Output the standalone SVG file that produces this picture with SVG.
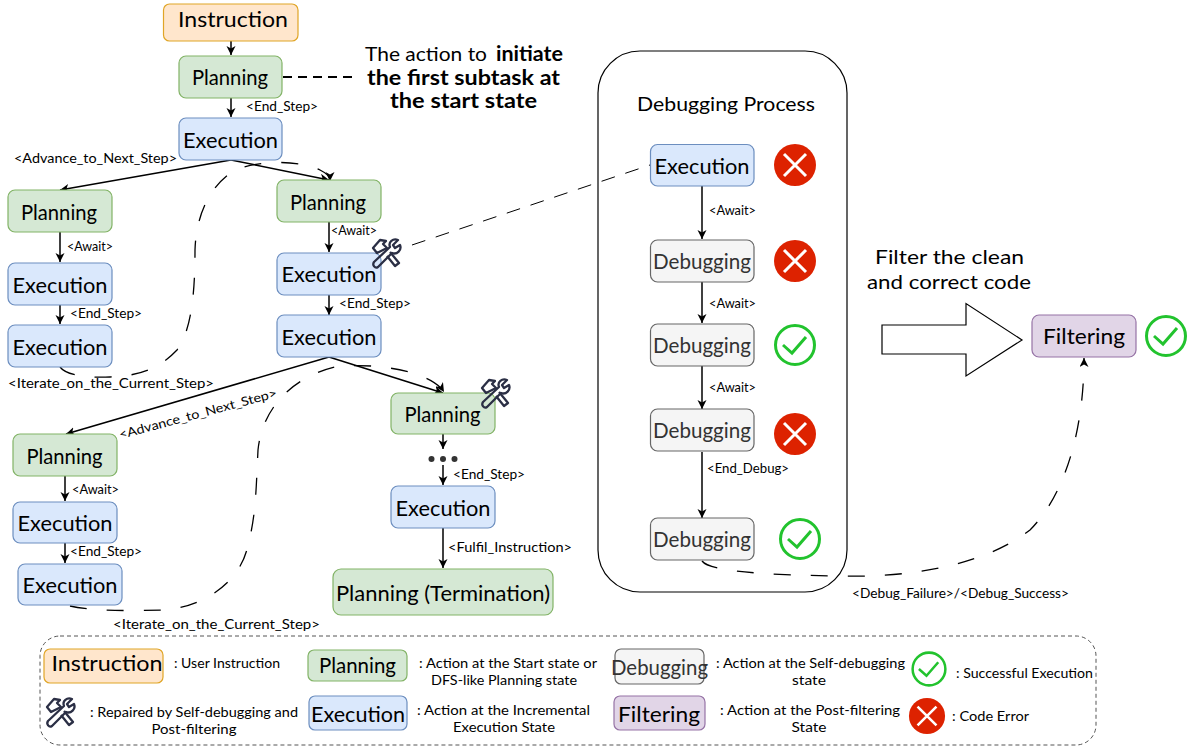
<svg xmlns="http://www.w3.org/2000/svg" xmlns:xlink="http://www.w3.org/1999/xlink" width="1194" height="747" viewBox="0 0 1194 747">
<style>
text{font-family:"Lato","Open Sans","Liberation Sans",sans-serif;fill:#000;text-anchor:middle}
.n{font-size:22px}.s{font-size:12.5px}.l{font-size:13px}.t{font-size:20px}.b{font-weight:700}
.ins{fill:#ffe6cc;stroke:#e0a526;stroke-width:1.2}.pl{fill:#d5e8d4;stroke:#82b366;stroke-width:1.2}.ex{fill:#dae8fc;stroke:#6c8ebf;stroke-width:1.2}.de{fill:#f5f5f5;stroke:#666;stroke-width:1.2}.fi{fill:#e1d5e7;stroke:#9673a6;stroke-width:1.2}
.dt{fill:#333}
.c{fill:none;stroke:#000;stroke-width:1.5;marker-end:url(#a)}
.d{fill:none;stroke:#000;stroke-width:1.3;stroke-dasharray:17 20}
.ok{fill:#fff;stroke:#22c32e;stroke-width:3}.okm{fill:none;stroke:#22c32e;stroke-width:3}
.er{fill:#dd2200}.erm{fill:none;stroke:#fff;stroke-width:3}
</style>
<defs>
<marker id="a" markerUnits="userSpaceOnUse" markerWidth="11" markerHeight="10" refX="9" refY="4.500" orient="auto"><path d="M0 0L9 4.500L0 9L2.500 4.500z" fill="#000"/></marker>
<g id="tool" fill="none" stroke="#2b2f45" stroke-width="2.3" stroke-linejoin="round">
<path d="M16 18L24 28L28 25L19 14"/>
<path d="M12 12L6 15L2 10L9 2L15 3L12 6L16 10z"/>
<path d="M3 24L19 9C17 4 22 0 27 2L22 7L24 10L29 7C31 12 26 17 21 15L7 29C4 31 1 27 3 24z"/>
</g>
<g id="okI"><circle class="ok" r="19.500"/><path class="okm" d="M-12 0L-3 8L11-8"/></g>
<g id="erI"><circle class="er" r="21"/><path class="erm" d="M-11-11L11 11M11-11L-11 11"/></g>
</defs>
<rect width="1194" height="747" fill="#fff"/>

<g id="debug-container"><rect x="598" y="51" width="249" height="541" rx="42" fill="#fff" stroke="#000" stroke-width="1.2"/></g>

<g id="connectors">
<path class="c" d="M231 41V55"/><path class="c" d="M231 98V117"/>
<path class="c" d="M231 160L60 190"/><path class="c" d="M231 160L329 180"/>
<path class="c" d="M60 232V262"/><path class="c" d="M60 305V324"/>
<path class="c" d="M329 222V252"/><path class="c" d="M329 295V315"/>
<path class="c" d="M329 357L66 434"/><path class="c" d="M329 357L443 393"/>
<path class="c" d="M65 476V501"/><path class="c" d="M65 543V563"/>
<path class="c" d="M443 434V449"/><path class="c" d="M443 465V485"/><path class="c" d="M443 528V568"/>
<path class="c" d="M702 186V239"/><path class="c" d="M702 282V323"/><path class="c" d="M702 366V409"/><path class="c" d="M702 452V518"/>
<path fill="none" stroke="#000" stroke-width="2" stroke-dasharray="9 6" d="M283 77H352"/>
<path fill="none" stroke="#000" stroke-width="1" stroke-dasharray="14 11" d="M412 245L650 165"/>
<path class="d" d="M60 367C66 375 85 378 110 377C140 376 160 368 177 350C192 330 195 290 195 250C196 215 210 185 235 170C260 160 300 160 320 170C326 173 330 176 330 181" marker-end="url(#a)"/>
<path class="d" d="M70 606C90 611 130 611 162 610C200 608 240 585 248 545C256 515 256 490 258 450C262 410 290 378 335 367C370 362 430 370 444 392" marker-end="url(#a)"/>
<path class="d" d="M702 561C710 572 770 575 840 576C910 578 985 565 1030 530C1065 495 1084 430 1084 358" marker-end="url(#a)"/>
<circle cx="431.500" cy="459" r="3" fill="#333"/><circle cx="443" cy="459" r="3" fill="#333"/><circle cx="454.500" cy="459" r="3" fill="#333"/>
</g>

<g id="instruction"><rect class="ins" x="163.500" y="4" width="134.500" height="37" rx="6"/><text class="n" x="233" y="27" textLength="110" lengthAdjust="spacingAndGlyphs">Instruction</text></g>
<g id="planning-1"><rect class="pl" x="179" y="56" width="103" height="42" rx="7"/><text class="n" x="230" y="85" textLength="76" lengthAdjust="spacingAndGlyphs">Planning</text></g>
<g id="execution-1"><rect class="ex" x="179" y="118" width="103" height="42" rx="7"/><text class="n" x="230.500" y="148" textLength="95" lengthAdjust="spacingAndGlyphs">Execution</text></g>
<g id="planning-2"><rect class="pl" x="8" y="190" width="104" height="42" rx="7"/><text class="n" x="59" y="220" textLength="76" lengthAdjust="spacingAndGlyphs">Planning</text></g>
<g id="execution-2"><rect class="ex" x="8" y="263" width="104" height="42" rx="7"/><text class="n" x="60" y="293" textLength="95" lengthAdjust="spacingAndGlyphs">Execution</text></g>
<g id="execution-3"><rect class="ex" x="8" y="325" width="104" height="42" rx="7"/><text class="n" x="60" y="355" textLength="95" lengthAdjust="spacingAndGlyphs">Execution</text></g>
<g id="planning-3"><rect class="pl" x="277" y="180" width="104" height="42" rx="7"/><text class="n" x="328" y="210" textLength="76" lengthAdjust="spacingAndGlyphs">Planning</text></g>
<g id="execution-4"><rect class="ex" x="277" y="253" width="104" height="42" rx="7"/><text class="n" x="329" y="282" textLength="95" lengthAdjust="spacingAndGlyphs">Execution</text></g>
<g id="execution-5"><rect class="ex" x="277" y="315" width="104" height="42" rx="7"/><text class="n" x="329" y="345" textLength="95" lengthAdjust="spacingAndGlyphs">Execution</text></g>
<g id="planning-4"><rect class="pl" x="13" y="434" width="104" height="42" rx="7"/><text class="n" x="64.500" y="464" textLength="76" lengthAdjust="spacingAndGlyphs">Planning</text></g>
<g id="execution-6"><rect class="ex" x="13" y="502" width="104" height="41" rx="7"/><text class="n" x="65" y="531" textLength="95" lengthAdjust="spacingAndGlyphs">Execution</text></g>
<g id="execution-7"><rect class="ex" x="18" y="564" width="104" height="41" rx="7"/><text class="n" x="70" y="593" textLength="95" lengthAdjust="spacingAndGlyphs">Execution</text></g>
<g id="planning-5"><rect class="pl" x="391" y="393" width="104" height="41" rx="7"/><text class="n" x="442.500" y="422" textLength="76" lengthAdjust="spacingAndGlyphs">Planning</text></g>
<g id="execution-8"><rect class="ex" x="391" y="486" width="104" height="42" rx="7"/><text class="n" x="443" y="516" textLength="95" lengthAdjust="spacingAndGlyphs">Execution</text></g>
<g id="planning-termination"><rect class="pl" x="333" y="569" width="220" height="46" rx="8"/><text class="n" x="443" y="601" textLength="214" lengthAdjust="spacingAndGlyphs">Planning (Termination)</text></g>

<g id="debug-execution"><rect class="ex" x="650.500" y="144.500" width="103.500" height="41.500" rx="7"/><text class="n" x="702" y="174" textLength="95" lengthAdjust="spacingAndGlyphs">Execution</text></g>
<g id="debug-1"><rect class="de" x="650.500" y="240" width="103.500" height="42" rx="7"/><text class="n dt" x="702" y="269" textLength="98" lengthAdjust="spacingAndGlyphs">Debugging</text></g>
<g id="debug-2"><rect class="de" x="650.500" y="324" width="103.500" height="42" rx="7"/><text class="n dt" x="702" y="353" textLength="98" lengthAdjust="spacingAndGlyphs">Debugging</text></g>
<g id="debug-3"><rect class="de" x="650.500" y="409" width="103.500" height="42" rx="7"/><text class="n dt" x="702" y="438" textLength="98" lengthAdjust="spacingAndGlyphs">Debugging</text></g>
<g id="debug-4"><rect class="de" x="650.500" y="518" width="103.500" height="42" rx="7"/><text class="n dt" x="702" y="547" textLength="98" lengthAdjust="spacingAndGlyphs">Debugging</text></g>
<g id="filtering"><rect class="fi" x="1032" y="315" width="104" height="42" rx="7"/><text class="n" x="1084" y="344" textLength="82" lengthAdjust="spacingAndGlyphs">Filtering</text></g>

<g id="status-icons">
<use xlink:href="#erI" href="#erI" x="795" y="165"/><use xlink:href="#erI" href="#erI" x="795" y="261"/><use xlink:href="#okI" href="#okI" x="795" y="345"/><use xlink:href="#erI" href="#erI" x="795" y="434"/><use xlink:href="#okI" href="#okI" x="800" y="539"/><use xlink:href="#okI" href="#okI" x="1166" y="336"/>
</g>
<g id="tools"><use xlink:href="#tool" href="#tool" x="371" y="238"/><use xlink:href="#tool" href="#tool" x="480" y="378"/></g>

<g id="filter-arrow"><path d="M882 325H966V303.500L1022 340L966 376V354H882z" fill="#fff" stroke="#000" stroke-width="1.2"/></g>

<g id="labels">
<text class="s" x="282" y="111" textLength="72" lengthAdjust="spacingAndGlyphs">&lt;End_Step&gt;</text>
<text class="s" x="95.500" y="163" textLength="163" lengthAdjust="spacingAndGlyphs">&lt;Advance_to_Next_Step&gt;</text>
<text class="s" x="90" y="251" textLength="46" lengthAdjust="spacingAndGlyphs">&lt;Await&gt;</text>
<text class="s" x="106" y="318" textLength="72" lengthAdjust="spacingAndGlyphs">&lt;End_Step&gt;</text>
<text class="s" x="111" y="388" textLength="206" lengthAdjust="spacingAndGlyphs">&lt;Iterate_on_the_Current_Step&gt;</text>
<text class="s" x="354" y="235" textLength="46" lengthAdjust="spacingAndGlyphs">&lt;Await&gt;</text>
<text class="s" x="375" y="308" textLength="72" lengthAdjust="spacingAndGlyphs">&lt;End_Step&gt;</text>
<text class="s" transform="translate(199 418) rotate(-15)" textLength="163" lengthAdjust="spacingAndGlyphs">&lt;Advance_to_Next_Step&gt;</text>
<text class="s" x="95.500" y="494" textLength="47" lengthAdjust="spacingAndGlyphs">&lt;Await&gt;</text>
<text class="s" x="106" y="556" textLength="72" lengthAdjust="spacingAndGlyphs">&lt;End_Step&gt;</text>
<text class="s" x="216.500" y="629" textLength="207" lengthAdjust="spacingAndGlyphs">&lt;Iterate_on_the_Current_Step&gt;</text>
<text class="s" x="489" y="479" textLength="72" lengthAdjust="spacingAndGlyphs">&lt;End_Step&gt;</text>
<text class="s" x="510" y="552" textLength="124" lengthAdjust="spacingAndGlyphs">&lt;Fulfil_Instruction&gt;</text>
<text class="s" x="732.500" y="215" textLength="47" lengthAdjust="spacingAndGlyphs">&lt;Await&gt;</text>
<text class="s" x="732.500" y="308" textLength="47" lengthAdjust="spacingAndGlyphs">&lt;Await&gt;</text>
<text class="s" x="732.500" y="392" textLength="47" lengthAdjust="spacingAndGlyphs">&lt;Await&gt;</text>
<text class="s" x="748" y="473" textLength="82" lengthAdjust="spacingAndGlyphs">&lt;End_Debug&gt;</text>
<text class="s" x="960.500" y="598" textLength="217" lengthAdjust="spacingAndGlyphs">&lt;Debug_Failure&gt;/&lt;Debug_Success&gt;</text>
<text class="t" x="426" y="61" textLength="122" lengthAdjust="spacingAndGlyphs">The action to</text>
<text class="t b" x="529.500" y="61" textLength="67" lengthAdjust="spacingAndGlyphs">initiate</text>
<text class="t b" x="463.500" y="85" textLength="193" lengthAdjust="spacingAndGlyphs">the first subtask at</text>
<text class="t b" x="463.500" y="108" textLength="147" lengthAdjust="spacingAndGlyphs">the start state</text>
<text class="t" x="726" y="111" textLength="178" lengthAdjust="spacingAndGlyphs">Debugging Process</text>
<text class="t" x="949.500" y="264" textLength="149" lengthAdjust="spacingAndGlyphs">Filter the clean</text>
<text class="t" x="949" y="289" textLength="164" lengthAdjust="spacingAndGlyphs">and correct code</text>
</g>

<g id="legend">
<rect x="40" y="636" width="1056" height="109" rx="20" fill="none" stroke="#555" stroke-width="1" stroke-dasharray="4 3"/>
<g id="legend-instruction"><rect class="ins" x="44" y="649" width="119" height="34" rx="6"/><text class="n" x="107" y="671" textLength="111" lengthAdjust="spacingAndGlyphs">Instruction</text></g>
<g id="legend-planning"><rect class="pl" x="308" y="650" width="99" height="31" rx="6"/><text class="n" x="357.500" y="673" textLength="77" lengthAdjust="spacingAndGlyphs">Planning</text></g>
<g id="legend-debugging"><rect class="de" x="615" y="649" width="89" height="35" rx="6"/><text class="n dt" x="659.500" y="675" textLength="97" lengthAdjust="spacingAndGlyphs">Debugging</text></g>
<g id="legend-execution"><rect class="ex" x="309" y="696" width="98" height="34" rx="6"/><text class="n" x="358" y="722" textLength="94" lengthAdjust="spacingAndGlyphs">Execution</text></g>
<g id="legend-filtering"><rect class="fi" x="614" y="696" width="91" height="34" rx="6"/><text class="n" x="659" y="722" textLength="82" lengthAdjust="spacingAndGlyphs">Filtering</text></g>
<use xlink:href="#tool" href="#tool" x="45" y="697"/>
<g transform="translate(929 669) scale(.84)"><use xlink:href="#okI" href="#okI"/></g>
<g transform="translate(927 716) scale(.86)"><use xlink:href="#erI" href="#erI"/></g>
<text class="l" x="227" y="668" textLength="106" lengthAdjust="spacingAndGlyphs">: User Instruction</text>
<text class="l" x="508" y="668" textLength="178" lengthAdjust="spacingAndGlyphs">: Action at the Start state or</text>
<text class="l" x="504" y="685" textLength="146" lengthAdjust="spacingAndGlyphs">DFS-like Planning state</text>
<text class="l" x="810.500" y="668" textLength="189" lengthAdjust="spacingAndGlyphs">: Action at the Self-debugging</text>
<text class="l" x="809" y="685" textLength="34" lengthAdjust="spacingAndGlyphs">state</text>
<text class="l" x="1024.500" y="678" textLength="137" lengthAdjust="spacingAndGlyphs">: Successful Execution</text>
<text class="l" x="194" y="717" textLength="208" lengthAdjust="spacingAndGlyphs">: Repaired by Self-debugging and</text>
<text class="l" x="194" y="734" textLength="85" lengthAdjust="spacingAndGlyphs">Post-filtering</text>
<text class="l" x="503.500" y="715" textLength="173" lengthAdjust="spacingAndGlyphs">: Action at the Incremental</text>
<text class="l" x="504" y="732" textLength="102" lengthAdjust="spacingAndGlyphs">Execution State</text>
<text class="l" x="810" y="715" textLength="180" lengthAdjust="spacingAndGlyphs">: Action at the Post-filtering</text>
<text class="l" x="809" y="732" textLength="35" lengthAdjust="spacingAndGlyphs">State</text>
<text class="l" x="990.500" y="721" textLength="77" lengthAdjust="spacingAndGlyphs">: Code Error</text>
</g>
</svg>
